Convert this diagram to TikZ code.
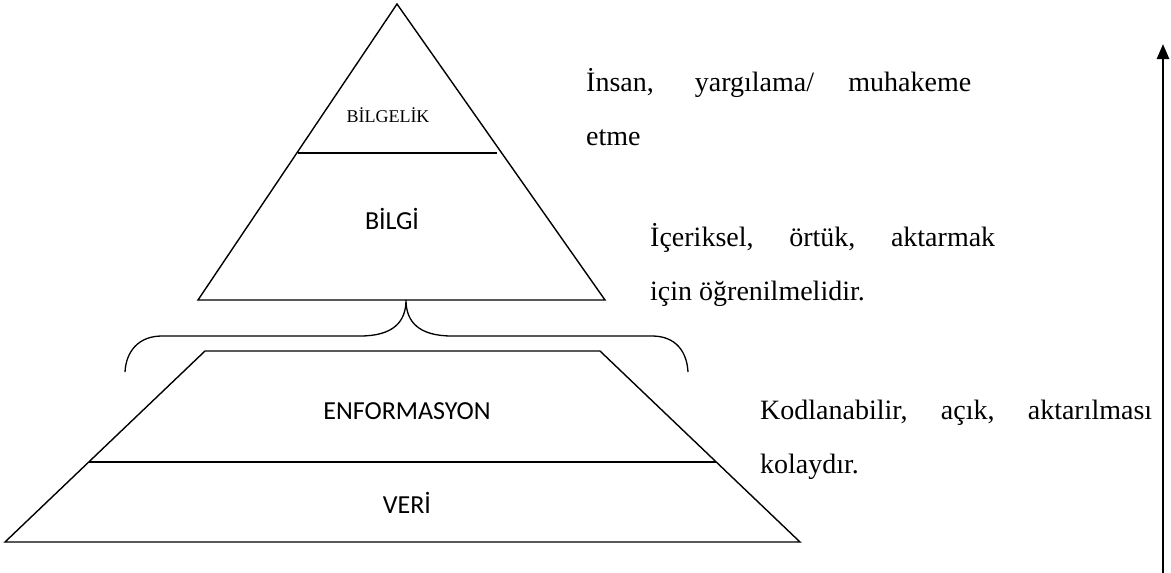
\documentclass[tikz,border=0pt]{standalone}
\usepackage{fontspec}
\setmainfont{Liberation Serif}
\newfontfamily\labelsans{Carlito}
\usetikzlibrary{arrows.meta}
\tikzset{
  shape line/.style={line width=1.4pt, line join=miter},
  level label/.style={font=\labelsans\fontsize{26}{30}\selectfont, inner sep=0pt},
  note/.style={font=\fontsize{28}{33}\selectfont, inner sep=0pt, anchor=base west},
}
% a justified first line of a description, spread to the given width
\newcommand{\fullline}[2]{\makebox[#1][s]{#2}}
\begin{document}
\begin{tikzpicture}[x=1pt,y=-1pt]
\useasboundingbox (0,0) rectangle (1171,573);
% upper triangle: wisdom and knowledge
\coordinate (apex) at (397,4);
\coordinate (tl) at (198,300);
\coordinate (tr) at (605,300);
\draw[shape line] (apex) -- (tr) -- (tl) -- cycle;
\draw[shape line] (298,153) -- (497,153);
\node[font=\fontsize{18}{20}\selectfont, inner sep=0pt] (bilgelik) at (388,115) {BİLGELİK};
\node[level label] (bilgi) at (392,219) {BİLGİ};
% curly brace joining the two parts
\coordinate (tip) at (406,300);
\draw[line width=1.3pt] (125,372) .. controls (126,352) and (138,336) .. (162,336)
  -- (360,336) .. controls (393,336) and (406,322) .. (tip)
  .. controls (406,322) and (419,336) .. (452,336)
  -- (652,336) .. controls (676,336) and (687,352) .. (688,372);
% lower trapezoid: information and data
\coordinate (bl) at (5,542);
\coordinate (br) at (800,542);
\coordinate (ul) at (205,351);
\coordinate (ur) at (600,351);
\draw[shape line] (ul) -- (ur) -- (br) -- (bl) -- cycle;
\draw[shape line] (89,462) -- (716,462);
\node[level label] (enf) at (407,411) {ENFORMASYON};
\node[level label] (veri) at (407,503) {VERİ};
% descriptions, one node per line
\node[note] (n1a) at (586,91) {\fullline{385pt}{İnsan, yargılama/ muhakeme}};
\node[note] (n1b) at (586,145) {etme};
\node[note] (n2a) at (650,246) {\fullline{345pt}{İçeriksel, örtük, aktarmak}};
\node[note] (n2b) at (650,300) {için öğrenilmelidir.};
\node[note] (n3a) at (760,419) {\fullline{392pt}{Kodlanabilir, açık, aktarılması}};
\node[note] (n3b) at (760,473) {kolaydır.};
% upward arrow
\coordinate (abot) at (1163,573);
\coordinate (atop) at (1163,44);
\draw[line width=2.6pt, -{Triangle[length=15pt,width=12pt]}] (abot) -- (atop);
\end{tikzpicture}
\end{document}
